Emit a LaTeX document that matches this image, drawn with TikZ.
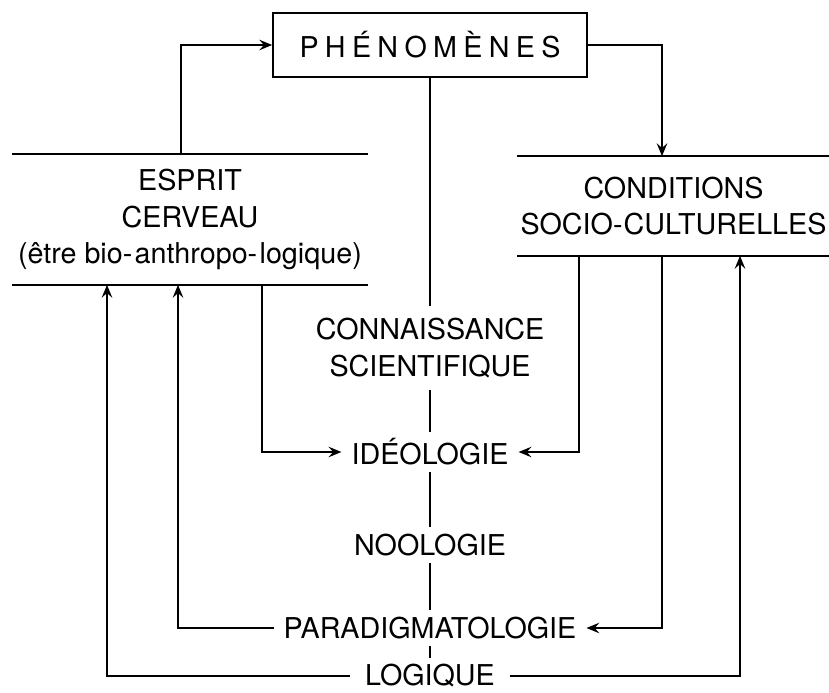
\documentclass[tikz,border=0pt]{standalone}
\usepackage{fontspec}
\setmainfont{TeX Gyre Heros}
\usetikzlibrary{arrows.meta}

\begin{document}
\begin{tikzpicture}[x=0.03cm,y=-0.03cm,line width=1.4pt,
		>={Stealth[length=11pt,width=9pt,inset=4pt]},
		every node/.style={font=\fontsize{24.5}{31}\selectfont,align=center},
		level/.style={inner xsep=8pt,inner ysep=5pt}]
		\useasboundingbox (0,0) rectangle (829,693);
		\node[draw,minimum width=9.42cm,minimum height=1.92cm](phen) at (430,45){\addfontfeature{LetterSpace=22}PHÉNOMÈNES};
		\node[minimum width=10.62cm,minimum height=3.87cm,inner sep=0pt](esprit) at (190,219.5){ESPRIT\\CERVEAU\\(être bio-\kern2pt anthropo-\kern2pt logique)};
		\node[minimum width=9.33cm,minimum height=2.94cm,inner sep=0pt](cond) at (673.5,206){CONDITIONS\\SOCIO-\kern1pt CULTURELLES};
		\draw (esprit.north west) -- (esprit.north east) (esprit.south west) -- (esprit.south east);
		\draw (cond.north west) -- (cond.north east) (cond.south west) -- (cond.south east);
		% the scale of knowledge
		\node[inner sep=10pt](conn) at (430,348){CONNAISSANCE\\SCIENTIFIQUE};
		\node[level](ideo) at (430,452){IDÉOLOGIE};
		\node[level](noo) at (430,545){NOOLOGIE};
		\node[level](para) at (430,628){PARADIGMATOLOGIE};
		\node[level,inner xsep=12pt](logi) at (430,676){LOGIQUE};
		\draw (phen.south) -- (conn.north);
		\draw (conn) -- (ideo) -- (noo) -- (para) -- (logi);
		% loops
		\draw[->] ([xshift=-0.27cm]esprit.north) |- (phen.west);
		\draw[->] (phen.east) -| ([xshift=-0.345cm]cond.north);
		\draw[->] ([xshift=2.16cm]esprit.south) |- (ideo.west);
		\draw[->] ([xshift=-2.835cm]cond.south) |- (ideo.east);
		\draw[->] ([xshift=-0.345cm]cond.south) |- (para.east);
		\draw[->] (para.west) -| ([xshift=-0.36cm]esprit.south);
		\draw[->] (logi.west) -| ([xshift=-2.49cm]esprit.south);
		\draw[->] (logi.east) -| ([xshift=1.995cm]cond.south);
	\end{tikzpicture}
\end{document}
